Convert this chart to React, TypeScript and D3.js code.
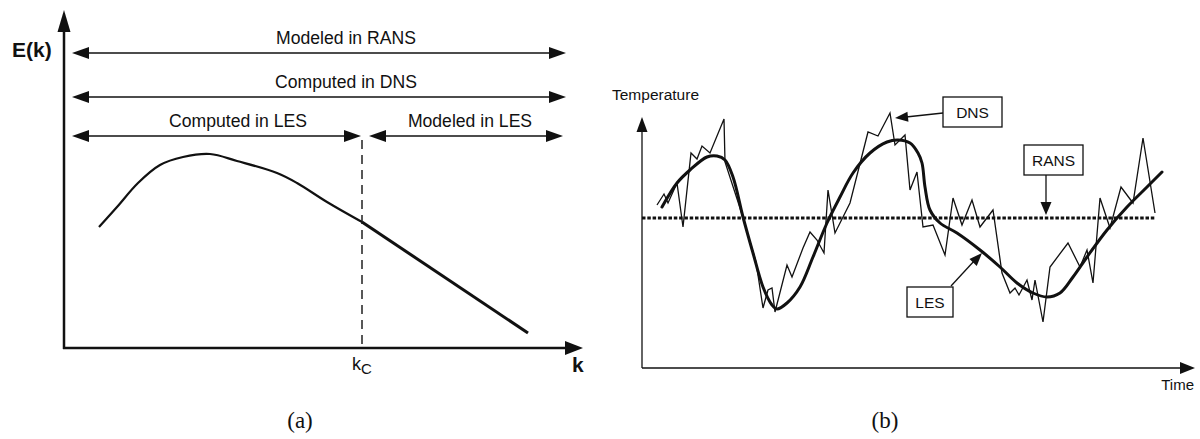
import React from "react";
import * as d3 from "d3";

// ---------- Panel (a): energy spectrum ----------
const specK = [35, 53, 74, 96, 119, 146, 173, 213, 233, 263, 298];
const specE = [121, 141, 165, 183, 191, 194, 187, 175, 165, 146, 126];
const inertialK = [298, 464];
const inertialE = [126, 15];
const kcValue = 298;
const rangeLabels = ["Modeled in RANS", "Computed in DNS", "Computed in LES", "Modeled in LES"];

// ---------- Panel (b): temperature signal ----------
const dnsT = [15, 22, 26, 35, 41, 49, 55, 60, 68, 82, 83, 98, 114, 121, 126, 130, 133, 145, 150, 161, 168, 175, 182, 186, 193, 208, 226, 236, 248, 253, 263, 268, 275, 281, 291, 303, 311, 320, 330, 338, 351, 360, 368, 373, 377, 385, 390, 393, 401, 408, 426, 438, 445, 451, 458, 468, 479, 491, 501, 513];
const dnsV = [163, 174, 165, 185, 141, 215, 209, 222, 215, 249, 206, 160, 106, 60, 78, 80, 56, 103, 91, 120, 136, 128, 115, 178, 135, 165, 236, 232, 255, 223, 233, 178, 196, 141, 143, 113, 170, 143, 168, 141, 158, 95, 75, 80, 73, 88, 68, 88, 46, 101, 125, 101, 118, 85, 170, 140, 181, 165, 230, 155];
const lesT = [20, 35, 48, 65, 75, 83, 91, 101, 111, 121, 130, 135, 145, 158, 171, 185, 198, 211, 228, 245, 256, 268, 276, 280, 283, 288, 298, 315, 338, 358, 375, 391, 405, 418, 431, 445, 465, 485, 505, 520];
const lesV = [161, 185, 198, 211, 212, 208, 191, 151, 115, 81, 63, 59, 65, 81, 111, 145, 171, 195, 215, 226, 228, 225, 215, 205, 181, 158, 145, 135, 118, 101, 85, 75, 71, 75, 91, 111, 138, 161, 181, 196];
const ransMean = 150;
const ransRange = [0, 513];

const SANS = "'Liberation Sans', Arial, Helvetica, sans-serif";
const SERIF = "'Liberation Serif', 'Times New Roman', serif";
const INK = "#111";

function head(tx: number, ty: number, dx: number, dy: number, len: number, half: number) {
  const n = Math.hypot(dx, dy);
  const ux = dx / n, uy = dy / n;
  const bx = tx - ux * len, by = ty - uy * len;
  const px = -uy * half, py = ux * half;
  return `M${tx},${ty}L${bx + px},${by + py}L${bx - px},${by - py}Z`;
}

function HArrow({ x1, x2, y, both = true }: { x1: number; x2: number; y: number; both?: boolean }) {
  return (
    <g>
      <line x1={x1 + 8} x2={x2 - 8} y1={y} y2={y} stroke={INK} strokeWidth={1.5} />
      {both && <path d={head(x1, y, -1, 0, 17, 6)} fill={INK} />}
      <path d={head(x2, y, 1, 0, 17, 6)} fill={INK} />
    </g>
  );
}

export default function App() {
  // Panel (a) scales
  const kx = d3.scaleLinear().domain([0, 519]).range([64, 583]);
  const ey = d3.scaleLinear().domain([0, 338]).range([348, 10]);
  const specLine = d3
    .line<number>()
    .x((_, i) => kx(specK[i]))
    .y((d) => ey(d))
    .curve(d3.curveCatmullRom.alpha(0.5));
  const inertialLine = d3
    .line<number>()
    .x((_, i) => kx(inertialK[i]))
    .y((d) => ey(d));

  // Panel (b) scales
  const tx = d3.scaleLinear().domain([0, 553]).range([642, 1195]);
  const ty = d3.scaleLinear().domain([0, 251]).range([368, 117]);
  const dnsLine = d3
    .line<number>()
    .x((_, i) => tx(dnsT[i]))
    .y((d) => ty(d));
  const lesLine = d3
    .line<number>()
    .x((_, i) => tx(lesT[i]))
    .y((d) => ty(d))
    .curve(d3.curveCatmullRom.alpha(0.5));

  const x0a = kx(0), y0a = ey(0);
  const xc = kx(kcValue);
  const yRans = 53, yDns = 97, yLes = 136;
  const x0b = tx(0), y0b = ty(0);
  const yMean = ty(ransMean);

  return (
    <div style={{ position: "absolute", left: 0, top: 0 }}>
      <svg width={1200} height={439} viewBox="0 0 1200 439" style={{ display: "block", background: "#fff" }}>
        {/* ===== Panel (a) ===== */}
        <line x1={x0a} x2={x0a} y1={y0a + 1} y2={28} stroke={INK} strokeWidth={2.5} />
        <path d={head(x0a, 10, 0, -1, 22, 6.5)} fill={INK} />
        <line x1={x0a - 1} x2={568} y1={y0a} y2={y0a} stroke={INK} strokeWidth={2.5} />
        <path d={head(583, y0a, 1, 0, 18, 7)} fill={INK} />
        <text x={12} y={57} fontFamily={SANS} fontWeight="bold" fontSize={21} fill={INK}>E(k)</text>
        <text x={572} y={372} fontFamily={SANS} fontWeight="bold" fontSize={21} fill={INK}>k</text>

        <HArrow x1={72} x2={566} y={yRans} />
        <text x={346} y={44} textAnchor="middle" fontFamily={SANS} fontSize={17.6} fill={INK}>{rangeLabels[0]}</text>
        <HArrow x1={72} x2={566} y={yDns} />
        <text x={346} y={88} textAnchor="middle" fontFamily={SANS} fontSize={17.6} fill={INK}>{rangeLabels[1]}</text>
        <HArrow x1={72} x2={xc - 1} y={yLes} />
        <text x={238} y={127} textAnchor="middle" fontFamily={SANS} fontSize={17.6} fill={INK}>{rangeLabels[2]}</text>
        <HArrow x1={xc + 7} x2={563} y={yLes} />
        <text x={470} y={127} textAnchor="middle" fontFamily={SANS} fontSize={17.6} fill={INK}>{rangeLabels[3]}</text>

        <line x1={xc} x2={xc} y1={yLes + 4} y2={y0a} stroke={INK} strokeWidth={1.4} strokeDasharray="9 6" />
        <text x={xc} y={370} textAnchor="middle" fontFamily={SANS} fontSize={18} fill={INK}>
          k<tspan fontSize={15} dy={4}>C</tspan>
        </text>

        <path d={specLine(specE) || ""} fill="none" stroke={INK} strokeWidth={2.2} strokeLinejoin="round" />
        <path d={inertialLine(inertialE) || ""} fill="none" stroke={INK} strokeWidth={3} />

        <text x={300} y={428} textAnchor="middle" fontFamily={SERIF} fontSize={23} fill={INK}>(a)</text>

        {/* ===== Panel (b) ===== */}
        <line x1={x0b} x2={x0b} y1={y0b} y2={130} stroke={INK} strokeWidth={1.3} />
        <path d={head(x0b, 117, 0, -1, 15, 5.5)} fill={INK} />
        <line x1={x0b} x2={1182} y1={y0b} y2={y0b} stroke={INK} strokeWidth={1.3} />
        <path d={head(1195, y0b, 1, 0, 15, 6)} fill={INK} />
        <text x={612} y={100} fontFamily={SANS} fontSize={15.5} fill={INK}>Temperature</text>
        <text x={1194} y={390} textAnchor="end" fontFamily={SANS} fontSize={15} fill={INK}>Time</text>

        <line x1={tx(ransRange[0])} x2={tx(ransRange[1])} y1={yMean} y2={yMean} stroke={INK} strokeWidth={3} strokeDasharray="3.5 1.8" />
        <path d={dnsLine(dnsV) || ""} fill="none" stroke={INK} strokeWidth={1.3} strokeLinejoin="miter" />
        <path d={lesLine(lesV) || ""} fill="none" stroke={INK} strokeWidth={3} strokeLinejoin="round" strokeLinecap="round" />

        {/* DNS label */}
        <rect x={943} y={97} width={59} height={30} fill="#fff" stroke={INK} strokeWidth={1.3} />
        <text x={972.5} y={117.5} textAnchor="middle" fontFamily={SANS} fontSize={15.5} fill={INK}>DNS</text>
        <line x1={943} y1={113} x2={906} y2={117} stroke={INK} strokeWidth={1.3} />
        <path d={head(895, 118, -48, 5, 13, 5)} fill={INK} />

        {/* RANS label */}
        <rect x={1024} y={145} width={59} height={30} fill="#fff" stroke={INK} strokeWidth={1.3} />
        <text x={1053.5} y={165.5} textAnchor="middle" fontFamily={SANS} fontSize={15.5} fill={INK}>RANS</text>
        <line x1={1046} y1={175} x2={1046} y2={204} stroke={INK} strokeWidth={1.3} />
        <path d={head(1046, 215, 0, 1, 13, 5.5)} fill={INK} />

        {/* LES label */}
        <rect x={907} y={287} width={46} height={30} fill="#fff" stroke={INK} strokeWidth={1.3} />
        <text x={930} y={307.5} textAnchor="middle" fontFamily={SANS} fontSize={15.5} fill={INK}>LES</text>
        <line x1={951} y1={286} x2={975} y2={260} stroke={INK} strokeWidth={1.3} />
        <path d={head(982, 253, 30, -32, 13, 5)} fill={INK} />

        <text x={885} y={428} textAnchor="middle" fontFamily={SERIF} fontSize={23} fill={INK}>(b)</text>
      </svg>
    </div>
  );
}
